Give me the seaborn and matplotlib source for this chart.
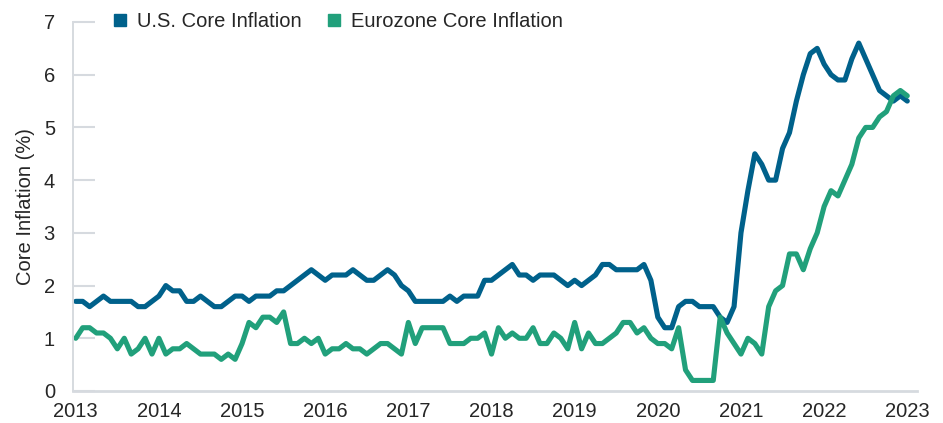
import numpy as np
import pandas as pd
import matplotlib
matplotlib.use("Agg")
import matplotlib.pyplot as plt
from matplotlib.lines import Line2D
import seaborn as sns

# monthly readings, first point sits on the "2013" tick
us_core = [
    1.7, 1.7, 1.6, 1.7, 1.8, 1.7, 1.7, 1.7, 1.7,
    1.6, 1.6, 1.7, 1.8, 2.0, 1.9, 1.9, 1.7, 1.7, 1.8, 1.7, 1.6,
    1.6, 1.7, 1.8, 1.8, 1.7, 1.8, 1.8, 1.8, 1.9, 1.9, 2.0, 2.1,
    2.2, 2.3, 2.2, 2.1, 2.2, 2.2, 2.2, 2.3, 2.2, 2.1, 2.1, 2.2,
    2.3, 2.2, 2.0, 1.9, 1.7, 1.7, 1.7, 1.7, 1.7, 1.8, 1.7, 1.8,
    1.8, 1.8, 2.1, 2.1, 2.2, 2.3, 2.4, 2.2, 2.2, 2.1, 2.2, 2.2,
    2.2, 2.1, 2.0, 2.1, 2.0, 2.1, 2.2, 2.4, 2.4, 2.3, 2.3, 2.3,
    2.3, 2.4, 2.1, 1.4, 1.2, 1.2, 1.6, 1.7, 1.7, 1.6, 1.6, 1.6,
    1.4, 1.3, 1.6, 3.0, 3.8, 4.5, 4.3, 4.0, 4.0, 4.6, 4.9, 5.5,
    6.0, 6.4, 6.5, 6.2, 6.0, 5.9, 5.9, 6.3, 6.6, 6.3, 6.0, 5.7,
    5.6, 5.5, 5.6, 5.5,
]
ez_core = [
    1.0, 1.2, 1.2, 1.1, 1.1, 1.0, 0.8, 1.0, 0.7, 0.8,
    1.0, 0.7, 1.0, 0.7, 0.8, 0.8, 0.9, 0.8, 0.7, 0.7,
    0.7, 0.6, 0.7, 0.6, 0.9, 1.3, 1.2, 1.4, 1.4, 1.3,
    1.5, 0.9, 0.9, 1.0, 0.9, 1.0, 0.7, 0.8, 0.8, 0.9,
    0.8, 0.8, 0.7, 0.8, 0.9, 0.9, 0.8, 0.7, 1.3, 0.9,
    1.2, 1.2, 1.2, 1.2, 0.9, 0.9, 0.9, 1.0, 1.0, 1.1,
    0.7, 1.2, 1.0, 1.1, 1.0, 1.0, 1.2, 0.9, 0.9, 1.1,
    1.0, 0.8, 1.3, 0.8, 1.1, 0.9, 0.9, 1.0, 1.1, 1.3,
    1.3, 1.1, 1.2, 1.0, 0.9, 0.9, 0.8, 1.2, 0.4, 0.2,
    0.2, 0.2, 0.2, 1.4, 1.1, 0.9, 0.7, 1.0, 0.9, 0.7,
    1.6, 1.9, 2.0, 2.6, 2.6, 2.3, 2.7, 3.0, 3.5, 3.8,
    3.7, 4.0, 4.3, 4.8, 5.0, 5.0, 5.2, 5.3, 5.6, 5.7, 5.6,
]
year_labels = [str(y) for y in range(2013, 2024)]
series_names = ["U.S. Core Inflation", "Eurozone Core Inflation"]

BLUE = "#00618B"
GREEN = "#21A07B"
LIGHT = "#D6DADF"
TEXT = "#262626"
FS = 14.5

sns.set_style("white")
plt.rcParams["font.family"] = ["Liberation Sans", "DejaVu Sans"]

months = np.arange(len(us_core))
df = pd.concat([
    pd.DataFrame({"month": months, "value": us_core, "series": series_names[0]}),
    pd.DataFrame({"month": months, "value": ez_core, "series": series_names[1]}),
])

fig = plt.figure(figsize=(9.43, 4.23), dpi=100)
ax = fig.add_axes([0.0774, 0.0757, 0.8950, 0.8723])

sns.lineplot(data=df, x="month", y="value", hue="series",
             hue_order=series_names, palette=[BLUE, GREEN],
             linewidth=3.7, legend=False, ax=ax)

ax.set_xlim(-0.4, 121.4)
ax.set_ylim(0, 7)
ax.set_xticks(np.arange(0, 121, 12))
ax.set_xticklabels(year_labels)
ax.set_yticks(range(0, 8))
ax.set_xlabel("")
ax.set_ylabel("Core Inflation (%)", fontsize=FS, color=TEXT, labelpad=6)

# seaborn's white style switches tick marks off; the short inner ticks come back here
ax.tick_params(axis="x", bottom=False, length=0, pad=8, labelsize=FS,
               labelcolor=TEXT)
ax.tick_params(axis="y", left=True, direction="in", length=16, width=1.5,
               color=LIGHT, pad=13, labelsize=FS, labelcolor=TEXT)

sns.despine(ax=ax)
ax.spines["left"].set_color(LIGHT)
ax.spines["left"].set_linewidth(1.4)
ax.spines["bottom"].set_color(LIGHT)
ax.spines["bottom"].set_linewidth(2)

handles = [Line2D([], [], marker="s", linestyle="none", markersize=9, color=c)
           for c in (BLUE, GREEN)]
leg = ax.legend(handles, series_names, loc="center left",
                bbox_to_anchor=(0.046, 1.0), ncol=2, frameon=False,
                fontsize=FS, handlelength=0.8, handletextpad=0.45,
                columnspacing=1.2, borderaxespad=0, borderpad=0)
for t in leg.get_texts():
    t.set_color(TEXT)

fig.savefig("out.png", dpi=100)
